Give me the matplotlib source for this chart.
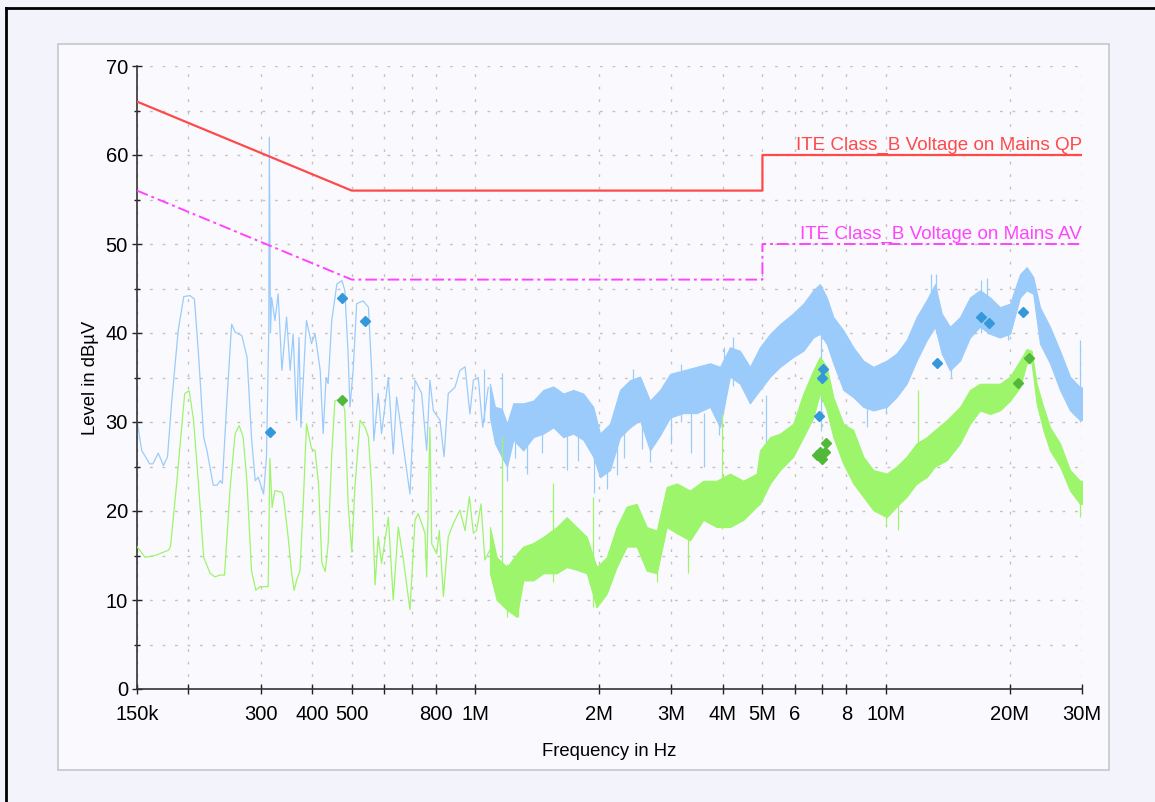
import numpy as np
import matplotlib
matplotlib.use("Agg")
import matplotlib.pyplot as plt
from matplotlib.patches import Rectangle
from matplotlib.lines import Line2D

plt.rcParams['font.family'] = ['Liberation Sans', 'DejaVu Sans']

# ==== limit lines (frequency in MHz, level in dBuV) ====================
lim_f = [0.15, 0.5, 5.0, 5.0, 30.0]
qp_lim = [66, 56, 56, 60, 60]
av_lim = [56, 46, 46, 50, 50]

# ==== peak trace, low frequency part (single line) =====================
pk_f = [0.150, 0.154, 0.161, 0.164, 0.169, 0.174, 0.178, 0.182, 0.189, 0.195,
		0.202, 0.207, 0.212, 0.218, 0.222, 0.230, 0.235, 0.239, 0.242, 0.248,
		0.255, 0.260, 0.270, 0.278, 0.285, 0.291, 0.296, 0.305, 0.310, 0.314,
		0.315, 0.317, 0.319, 0.325, 0.331, 0.338, 0.347, 0.354, 0.360, 0.367,
		0.372, 0.376, 0.385, 0.388, 0.399, 0.407, 0.419, 0.426, 0.433, 0.438,
		0.447, 0.460, 0.473, 0.481, 0.490, 0.495, 0.504, 0.514, 0.533, 0.549,
		0.559, 0.566, 0.580, 0.591, 0.614, 0.631, 0.643, 0.655, 0.668, 0.693,
		0.713, 0.740, 0.761, 0.775, 0.790, 0.820, 0.839, 0.859, 0.892, 0.917,
		0.944, 0.970, 0.989, 1.016, 1.042, 1.075]
pk_db = [30.2, 26.8, 25.3, 25.3, 26.5, 25.1, 26.1, 32.0, 40.3, 44.1,
		 44.2, 43.8, 37.3, 28.3, 26.8, 22.9, 22.9, 23.4, 23.1, 32.0,
		 41.0, 40.1, 39.7, 37.3, 28.3, 23.4, 23.8, 21.9, 26.1, 40.0,
		 62.0, 40.0, 44.0, 41.4, 44.4, 35.8, 41.8, 35.8, 39.9, 30.2,
		 39.5, 29.4, 38.8, 41.4, 38.8, 39.9, 35.8, 28.7, 35.0, 34.3,
		 41.4, 45.5, 45.9, 44.8, 37.6, 31.7, 35.8, 43.3, 43.6, 42.9,
		 35.8, 27.9, 33.2, 28.7, 35.0, 26.4, 32.8, 30.2, 27.2, 21.9,
		 34.7, 33.2, 26.8, 34.7, 31.3, 30.2, 26.1, 33.2, 33.9, 35.8,
		 36.2, 30.9, 34.7, 35.0, 29.4, 33.9]

# ==== peak trace, high frequency part (noise band envelope) ============
pk_band_f = [1.085, 1.116, 1.159, 1.194, 1.237, 1.308, 1.384, 1.464, 1.548, 1.637,
			 1.731, 1.831, 1.937, 2.012, 2.127, 2.250, 2.380, 2.517, 2.662, 2.816,
			 2.979, 3.209, 3.459, 3.727, 3.941, 4.168, 4.408, 4.662,
			 4.93, 5.22, 5.52, 5.94, 6.29, 6.65, 6.90, 7.17, 7.44, 7.87,
			 8.32, 8.80, 9.31, 10.04, 10.61, 11.22, 11.87, 12.56, 13.16, 13.66,
			 14.31, 15.14, 16.01, 16.93, 17.91, 18.94, 20.04, 21.19, 22.0, 22.82,
			 23.70, 25.07, 26.52, 28.05, 29.67, 30.0]
pk_band_hi = [34.3, 31.7, 31.5, 29.8, 32.1, 32.1, 32.4, 33.6, 34.0, 33.2,
			  33.6, 33.2, 31.7, 28.7, 29.8, 33.6, 34.7, 35.1, 32.4, 33.6,
			  35.4, 35.8, 36.2, 36.6, 36.2, 38.4, 38.0, 36.2,
			  38.4, 39.9, 41.0, 42.2, 43.3, 44.8, 45.5, 44.0, 41.8, 40.3,
			  38.4, 36.9, 36.2, 36.9, 37.7, 39.2, 41.8, 43.7, 45.5, 42.2,
			  40.7, 41.8, 44.0, 44.8, 44.0, 42.9, 43.3, 46.6, 47.4, 46.3,
			  42.9, 40.7, 38.0, 35.1, 33.9, 33.9]
pk_band_lo = [30.5, 27.6, 26.1, 25.0, 28.0, 26.8, 28.3, 28.7, 29.4, 28.3,
			  28.7, 28.0, 26.1, 23.8, 24.6, 28.3, 29.4, 30.2, 26.8, 28.5,
			  30.5, 31.0, 31.0, 31.7, 29.4, 35.1, 34.3, 32.1,
			  33.6, 35.1, 36.2, 37.3, 38.0, 39.5, 39.9, 38.8, 36.6, 33.6,
			  32.8, 31.7, 31.3, 31.7, 32.8, 34.3, 36.9, 39.2, 40.7, 37.7,
			  35.8, 36.9, 39.5, 40.7, 39.9, 39.5, 39.9, 44.0, 44.8, 44.4,
			  38.8, 36.6, 33.6, 31.3, 30.2, 30.2]
pk_spike_f = [1.05, 1.159, 1.194, 1.25, 1.334, 1.45, 1.675, 1.78, 1.95, 2.09,
			  2.21, 2.30, 2.42, 2.55, 2.66, 3.0, 3.17, 3.35, 3.6, 3.93,
			  4.02, 4.25, 5.10, 6.95, 9.0, 10.0, 12.9, 13.2, 14.4, 17.0,
			  17.6, 19.8, 29.7]
pk_spike_lo = [30.0, 30.0, 23.4, 26.0, 24.2, 26.5, 24.6, 25.6, 22.0, 22.5,
			   24.0, 26.0, 30.0, 27.0, 25.5, 27.5, 30.0, 26.5, 25.0, 28.5,
			   32.0, 34.0, 26.0, 29.0, 29.4, 31.0, 40.0, 40.0, 35.1, 40.0,
			   40.0, 39.2, 30.0]
pk_spike_hi = [36.0, 35.5, 30.0, 30.0, 30.0, 30.0, 30.0, 30.0, 28.0, 27.0,
			   30.0, 30.0, 36.0, 31.0, 30.0, 31.0, 36.5, 32.0, 31.0, 33.0,
			   38.4, 39.5, 33.0, 40.0, 36.0, 36.0, 46.6, 46.6, 40.0, 45.9,
			   46.2, 43.0, 39.2]

# ==== average trace, low frequency part ================================
av_f = [0.150, 0.157, 0.166, 0.179, 0.181, 0.187, 0.196, 0.201, 0.206, 0.212,
		0.218, 0.226, 0.232, 0.239, 0.245, 0.253, 0.260, 0.266, 0.272, 0.278,
		0.285, 0.292, 0.299, 0.313, 0.316, 0.320, 0.325, 0.338, 0.341, 0.350,
		0.357, 0.362, 0.367, 0.374, 0.381, 0.388, 0.399, 0.407, 0.415, 0.423,
		0.431, 0.438, 0.447, 0.455, 0.473, 0.481, 0.490, 0.500, 0.509, 0.524,
		0.539, 0.549, 0.559, 0.570, 0.580, 0.591, 0.614, 0.631, 0.649, 0.668,
		0.693, 0.713, 0.726, 0.754, 0.761, 0.775, 0.783, 0.805, 0.817, 0.836,
		0.859, 0.884, 0.917, 0.944, 0.967, 0.989, 1.007, 1.032, 1.055, 1.085]
av_db = [16.0, 14.8, 15.0, 15.6, 16.0, 22.7, 33.2, 33.5, 30.2, 22.7,
		 14.8, 13.0, 12.6, 12.8, 12.8, 22.7, 28.7, 29.6, 28.3, 23.1,
		 13.3, 11.1, 11.5, 11.5, 25.9, 20.4, 22.3, 22.1, 21.6, 17.1,
		 13.0, 11.1, 12.2, 13.3, 20.8, 29.8, 27.0, 26.8, 23.1, 14.1,
		 13.2, 16.3, 26.4, 32.4, 32.6, 31.3, 20.8, 15.4, 22.7, 30.2,
		 29.4, 28.3, 22.7, 11.7, 17.1, 14.1, 19.3, 10.0, 18.2, 14.5,
		 8.9, 19.0, 19.7, 17.5, 12.6, 29.4, 16.3, 15.2, 17.8, 10.4,
		 17.1, 18.6, 20.1, 17.8, 21.6, 17.5, 17.8, 20.8, 14.5, 15.6]

# ==== average trace, high frequency part ===============================
av_band_f = [1.085, 1.127, 1.194, 1.261, 1.308, 1.384, 1.464, 1.578, 1.668, 1.764,
			 1.867, 1.974, 2.088, 2.208, 2.336, 2.470, 2.613, 2.764, 2.924, 3.093,
			 3.332, 3.590, 3.869, 4.168, 4.491, 4.841,
			 4.93, 5.22, 5.52, 5.94, 6.29, 6.65, 6.90, 7.17, 7.44, 7.87,
			 8.32, 8.80, 9.31, 10.04, 10.61, 11.22, 11.87, 12.56, 13.16, 14.05,
			 15.14, 16.01, 16.93, 17.91, 18.94, 20.04, 21.19, 22.0, 22.62, 23.26,
			 24.15, 25.07, 26.52, 28.05, 29.67, 30.0]
av_band_hi = [18.2, 14.8, 13.7, 15.2, 16.0, 16.4, 17.1, 18.2, 19.3, 18.2,
			  17.1, 13.7, 14.8, 18.2, 20.5, 20.8, 18.2, 17.8, 22.7, 23.1,
			  22.3, 23.4, 23.4, 24.2, 23.4, 24.2,
			  26.8, 28.3, 28.7, 29.8, 33.2, 35.8, 37.3, 36.2, 32.8, 29.8,
			  29.1, 26.1, 24.6, 24.2, 25.0, 26.1, 27.6, 28.3, 29.1, 30.2,
			  31.7, 33.6, 34.3, 34.3, 34.3, 35.1, 36.9, 38.2, 38.0, 34.3,
			  31.7, 29.4, 27.6, 24.6, 23.4, 23.4]
av_band_lo = [13.0, 10.0, 8.9, 8.1, 12.2, 12.2, 13.0, 13.0, 13.7, 13.4,
			  13.0, 9.2, 10.7, 13.7, 16.0, 16.0, 13.3, 13.0, 18.2, 17.5,
			  16.7, 19.0, 18.2, 18.2, 19.0, 20.5,
			  20.8, 23.1, 24.6, 26.1, 28.3, 30.5, 33.2, 31.3, 28.3, 25.3,
			  23.1, 21.6, 20.1, 19.3, 20.5, 21.6, 23.1, 23.8, 25.0, 25.7,
			  27.6, 29.8, 31.3, 30.9, 31.3, 32.4, 33.9, 36.6, 36.6, 32.1,
			  29.1, 26.8, 25.0, 22.3, 20.8, 20.8]
av_spike_f = [1.159, 1.194, 1.27, 1.548, 1.937, 1.97, 2.77, 3.29, 3.98, 10.0,
			  10.7, 11.97, 29.67]
av_spike_lo = [10.0, 8.1, 8.1, 12.0, 9.2, 9.2, 12.0, 13.0, 18.0, 18.2,
			   17.9, 23.0, 19.3]
av_spike_hi = [28.3, 14.0, 14.0, 23.1, 21.6, 14.0, 16.0, 18.0, 30.9, 23.0,
			   22.0, 33.6, 23.0]

# ==== final measurement markers ========================================
qp_mark_f = [0.316, 0.473, 0.539, 6.85, 7.00, 7.03, 13.3, 17.06, 17.8, 21.5]
qp_mark_db = [28.9, 43.9, 41.3, 30.7, 35.0, 35.9, 36.6, 41.8, 41.1, 42.4]
av_mark_f = [0.473, 6.78, 6.90, 6.97, 7.10, 7.14, 21.0, 22.3]
av_mark_db = [32.5, 26.3, 26.6, 25.8, 26.6, 27.6, 34.4, 37.2]

# ==== axis ticks =======================================================
tick_f = [0.15, 0.2, 0.3, 0.4, 0.5, 0.6, 0.7, 0.8, 1, 2, 3, 4, 5, 6, 7, 8, 10, 20, 30]
tick_lbl = ['150k', '', '300', '400', '500', '', '', '800', '1M', '2M', '3M', '4M',
			'5M', '6', '', '8', '10M', '20M', '30M']

def plotting():
	W, H = 1155.0, 802.0
	fig = plt.figure(figsize=(W/100, H/100), dpi=100)
	fig.patch.set_facecolor('#F3F3FB')
	# inner panel and the black frame of the screenshot
	fig.patches.append(Rectangle((58/W, 1-770/H), (1109-58)/W, (770-44)/H,
								 transform=fig.transFigure, facecolor='#FAFAFE',
								 edgecolor='#C6C6CE', lw=1.2, zorder=-5))
	fig.lines.append(Line2D([6/W, 6/W], [0, 1-8/H], transform=fig.transFigure, color='k', lw=2))
	fig.lines.append(Line2D([6/W, 1], [1-8/H, 1-8/H], transform=fig.transFigure, color='k', lw=2))

	ax = fig.add_axes([137/W, 1-689/H, 945/W, 623/H])
	ax.set_facecolor('none')
	ax.set_xscale('log')

	blue = '#9BCBFA'
	green = '#9CF56A'
	# peak trace
	ax.plot(pk_f, pk_db, color=blue, lw=0.9, zorder=2)
	ax.fill_between(pk_band_f, pk_band_lo, pk_band_hi, color=blue, lw=0.8, zorder=2)
	ax.vlines(pk_spike_f, pk_spike_lo, pk_spike_hi, color=blue, lw=0.9, zorder=2)
	# average trace
	ax.plot(av_f, av_db, color=green, lw=0.9, zorder=3)
	ax.fill_between(av_band_f, av_band_lo, av_band_hi, color=green, lw=0.8, zorder=3)
	ax.vlines(av_spike_f, av_spike_lo, av_spike_hi, color=green, lw=0.9, zorder=3)

	# limits
	ax.plot(lim_f, qp_lim, color='#FF4A4A', lw=1.6, zorder=4)
	ax.plot(lim_f, av_lim, color='#FF44FF', lw=1.4, ls=(0, (6, 2, 1.5, 2)), zorder=4)
	ax.text(30, 60.55, 'ITE Class_B Voltage on Mains QP', color='#FF4A4A',
			ha='right', va='baseline', fontsize=13.6)
	ax.text(30, 50.6, 'ITE Class_B Voltage on Mains AV', color='#FF44FF',
			ha='right', va='baseline', fontsize=13.6)

	# markers
	ax.plot(qp_mark_f, qp_mark_db, ls='none', marker='D', ms=5, color='#3498DB', zorder=5)
	ax.plot(av_mark_f, av_mark_db, ls='none', marker='D', ms=5, color='#52B83A', zorder=5)

	ax.set_xlim(0.15, 30)
	ax.set_ylim(0, 70)
	ax.set_xticks(tick_f)
	ax.set_xticklabels(tick_lbl)
	ax.set_xticks([], minor=True)
	ax.set_yticks(range(0, 71, 10))
	ax.set_yticks(range(5, 70, 10), minor=True)
	ax.grid(which='major', color='#C2C2C2', ls=(0, (2, 7)), lw=1.0)
	ax.grid(which='minor', axis='y', color='#C2C2C2', ls=(0, (2, 7)), lw=1.0)
	ax.tick_params(which='major', direction='inout', length=7, width=1, colors='#222222',
				   labelsize=14.5, labelcolor='black')
	ax.tick_params(which='minor', direction='inout', length=5, width=1, colors='#222222')
	ax.tick_params(axis='x', pad=8)
	ax.tick_params(axis='y', pad=3)
	for s in ['top', 'right']:
		ax.spines[s].set_visible(False)
	for s in ['left', 'bottom']:
		ax.spines[s].set_color('#333333')
		ax.spines[s].set_linewidth(1.2)

	ax.set_xlabel('Frequency in Hz', fontsize=13.3, labelpad=14)
	ax.set_ylabel('Level in dBµV', fontsize=13.3, labelpad=5)

	fig.savefig('out.png', dpi=100, facecolor=fig.get_facecolor())

if __name__ == '__main__':
	plotting()
